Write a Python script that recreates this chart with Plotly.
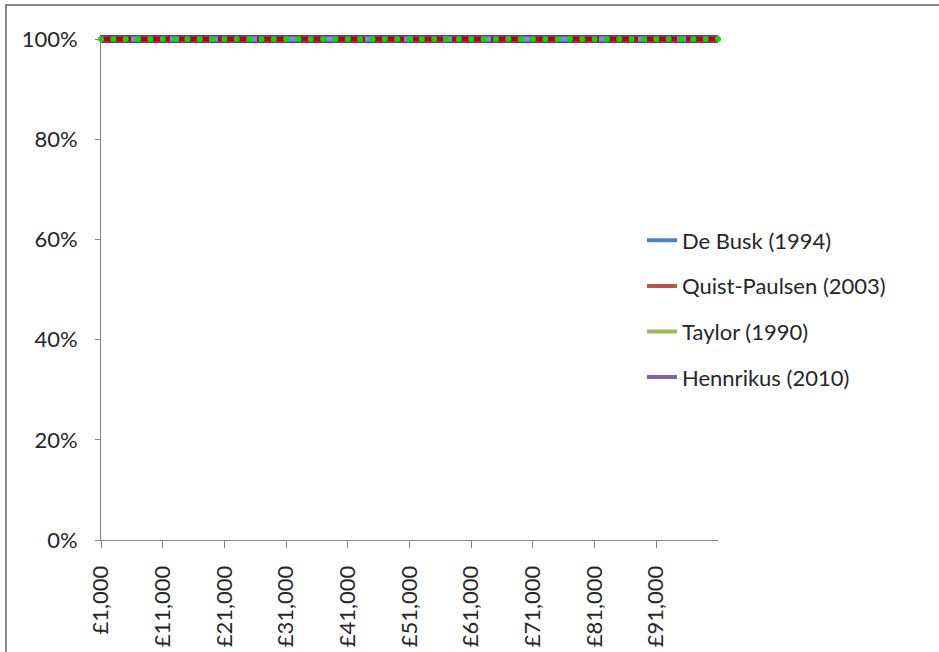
import plotly.graph_objects as go

# Data: income categories £1,000 ... £101,000 and each study's proportion (all 100%)
incomes = list(range(1000, 102000, 1000))
de_busk = [1.0] * len(incomes)
quist_paulsen = [1.0] * len(incomes)
taylor = [1.0] * len(incomes)
hennrikus = [1.0] * len(incomes)

series_names = ["De Busk (1994)", "Quist-Paulsen (2003)", "Taylor (1990)", "Hennrikus (2010)"]
legend_colors = ["#4F81BD", "#C0504D", "#9BBB59", "#8064A2"]

tick_vals = list(range(1000, 100000, 10000))
tick_text = ["£{:,}".format(v) for v in tick_vals]

W, H = 939, 652
L, R, T, B = 101, 718, 39, 540
YMAX = 1.01
T_eff = B - (B - T) * YMAX  # top of plot area so that 100% sits at y=T

fig = go.Figure()

# plotted series (drawn as in the reference rendering)
fig.add_trace(go.Scatter(x=incomes, y=hennrikus, mode="lines", showlegend=False,
                         line=dict(color="#7030A0", width=8), cliponaxis=False))
fig.add_trace(go.Scatter(x=incomes, y=de_busk, mode="lines", showlegend=False,
                         line=dict(color="#6A98DC", width=5), cliponaxis=False))
fig.add_trace(go.Scatter(x=incomes, y=quist_paulsen, mode="lines", showlegend=False,
                         line=dict(color="#C00000", width=5, dash="30px,9px"), cliponaxis=False))
fig.add_trace(go.Scatter(x=incomes, y=taylor, mode="markers", showlegend=False,
                         marker=dict(color="#00E000", size=6, maxdisplayed=51,
                                     line=dict(width=0)), cliponaxis=False))

# legend entries
for name, col in zip(series_names, legend_colors):
    fig.add_trace(go.Scatter(x=[None], y=[None], mode="lines", name=name,
                             legendgroup=name, line=dict(color=col, width=4)))

axis_col = "#868686"
pw, ph = R - L, B - T_eff
fig.update_layout(
    width=W, height=H,
    margin=dict(l=L, r=W - R, t=T_eff, b=H - B, autoexpand=False),
    paper_bgcolor="white", plot_bgcolor="white",
    font=dict(family="Lato, Carlito, sans-serif", size=22, color="#262626"),
    showlegend=True,
    legend=dict(x=(642 - L) / pw, y=(B - 309) / ph, xanchor="left", yanchor="middle",
                traceorder="grouped", tracegroupgap=14,
                font=dict(size=22, color="#262626"), bgcolor="rgba(0,0,0,0)"),
    xaxis=dict(range=[1000, 101000], tickmode="array", tickvals=tick_vals, ticktext=tick_text,
               tickangle=-90, ticks="outside", ticklen=7, tickcolor=axis_col, tickwidth=1,
               showline=True, linecolor=axis_col, linewidth=1, showgrid=False, zeroline=False,
               tickfont=dict(size=22, color="#262626"),
               ticklabelstandoff=9),
    yaxis=dict(range=[0, YMAX], tickmode="array", tickvals=[0, 0.2, 0.4, 0.6, 0.8, 1.0],
               tickformat=".0%", ticks="outside", ticklen=5,
               tickcolor=axis_col, tickwidth=1, showline=True, linecolor=axis_col, linewidth=1,
               showgrid=False, zeroline=False, tickfont=dict(size=22), ticklabelstandoff=13),
)

# outer chart border (cropped on the right and bottom)
fig.add_shape(type="rect", xref="paper", yref="paper",
              x0=(6 - L) / pw, x1=(960 - L) / pw,
              y0=(B - 680) / ph, y1=(B - 5) / ph,
              line=dict(color="#868686", width=2), fillcolor="rgba(0,0,0,0)", layer="below")

fig.write_html("out.html")
